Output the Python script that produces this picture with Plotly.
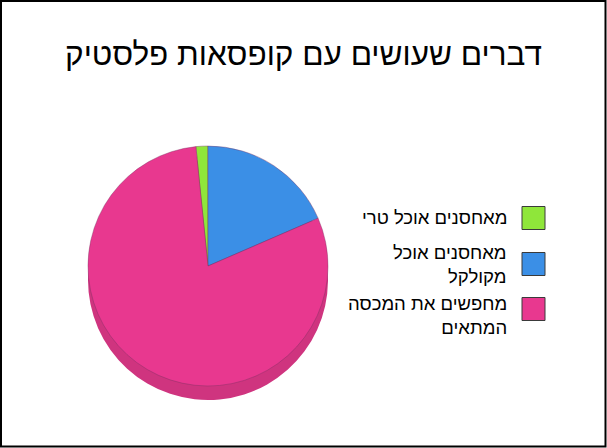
import plotly.graph_objects as go

W, H = 607, 448

labels = ["מאחסנים אוכל טרי", "מאחסנים אוכל מקולקל", "מחפשים את המכסה המתאים"]
legend_text = ["מאחסנים אוכל טרי", "מאחסנים אוכל<br>מקולקל", "מחפשים את המכסה<br>המתאים"]
values = [1.6, 18.5, 79.9]
colors = ["#8fe63a", "#3b8fe6", "#e8388f"]
side_colors = ["#78c430", "#3078c4", "#cf347f"]
title = "דברים שעושים עם קופסאות פלסטיק"

# pie placement in pixels
cx, cy, r, depth = 208, 266, 120, 14

def dom(cy_):
    return dict(x=[(cx - r) / W, (cx + r) / W],
                y=[1 - (cy_ + r) / H, 1 - (cy_ - r) / H])

fig = go.Figure()
# darker copy underneath, shifted down, gives the 3d edge
fig.add_trace(go.Pie(labels=labels, values=values, sort=False, direction="clockwise",
                     rotation=-5.8, domain=dom(cy + depth), textinfo="none",
                     hoverinfo="skip", showlegend=False,
                     marker=dict(colors=side_colors, line=dict(width=0))))
fig.add_trace(go.Pie(labels=labels, values=values, sort=False, direction="clockwise",
                     rotation=-5.8, domain=dom(cy), textinfo="none", showlegend=False,
                     marker=dict(colors=colors, line=dict(color="#7a3060", width=0.4))))

# manual legend: swatch on the right, text to its left
legend_y = [218, 264, 315]
swatch_y = [218, 264, 309]
for i in range(len(labels)):
    fig.add_annotation(x=509 / W, y=1 - legend_y[i] / H, xref="paper", yref="paper",
                       text=legend_text[i], showarrow=False, xanchor="right", yanchor="middle",
                       align="right", font=dict(size=18.5, color="#000000", family="Liberation Sans"))
    fig.add_shape(type="rect", xref="paper", yref="paper",
                  x0=522 / W, x1=545 / W,
                  y0=1 - (swatch_y[i] - 11.5) / H, y1=1 - (swatch_y[i] + 11.5) / H,
                  fillcolor=colors[i], line=dict(color="#3a3a3a", width=1))

# frame
fig.add_shape(type="rect", xref="paper", yref="paper", x0=1 / W, x1=1 - 1.5 / W,
              y0=1.5 / H, y1=1 - 1 / H, line=dict(color="#000000", width=2))

fig.update_layout(
    width=W, height=H,
    margin=dict(l=0, r=0, t=0, b=0),
    paper_bgcolor="white", plot_bgcolor="white",
    title=dict(text=title, x=0.5, xanchor="center", y=1 - 54 / H, yanchor="middle",
               font=dict(size=31.5, color="#000000", family="Liberation Sans")),
)

fig.write_html("out.html", config={"displayModeBar": False},
               post_script="document.body.style.margin='0';")
